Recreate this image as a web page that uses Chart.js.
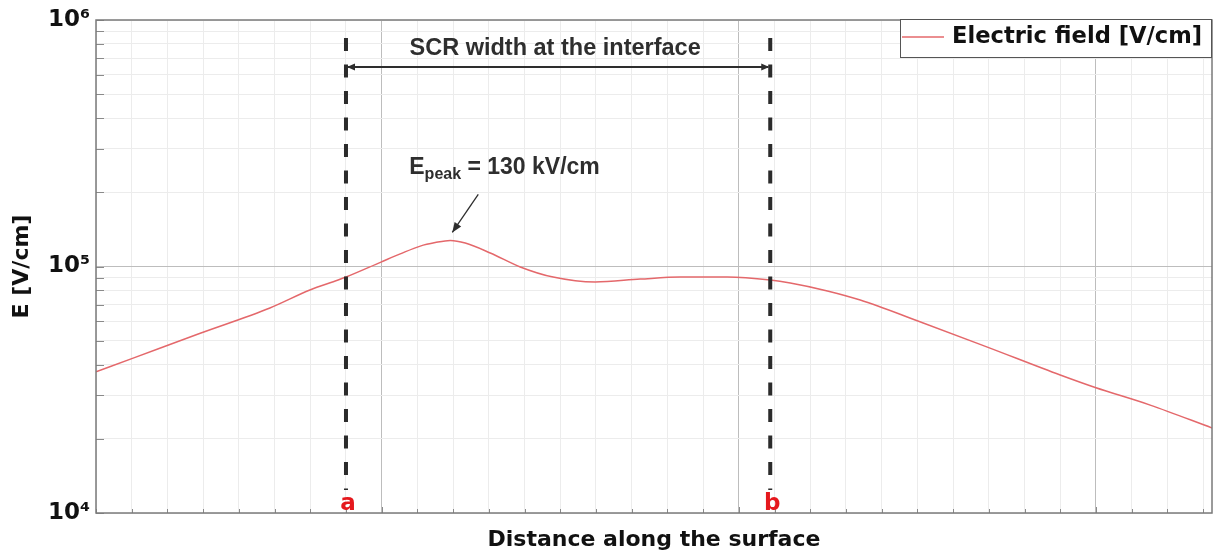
<!DOCTYPE html>
<html>
<head>
<meta charset="utf-8">
<script src="https://cdn.jsdelivr.net/npm/chart.js@4/dist/chart.umd.min.js"></script>
<style>
html,body{margin:0;padding:0;background:#fff;}
#wrap{width:1217px;height:555px;}
</style>
</head>
<body>
<div id="wrap"><canvas id="c" width="1217" height="555"></canvas></div>
<script>
// ---- data ----
const distance = [0.00,1.04,2.90,4.87,5.99,6.78,7.00,7.98,8.52,9.08,9.50,9.92,10.34,11.04,11.88,12.80,13.98,15.24,16.36,17.68,18.88,19.44,20.48,21.40,22.94,24.96,27.00,27.98,29.52,31.26];
const eField   = [37400,42500,53500,67900,80300,88100,90600,104200,112500,121000,125000,127500,124500,113500,99600,90600,86500,88900,90600,90600,88100,85700,79600,73100,60700,47100,36300,32300,27400,22100];
const seriesLabel = 'Electric field [V/cm]';
const yTickValues = [1e4,2e4,3e4,4e4,5e4,6e4,7e4,8e4,9e4,1e5,2e5,3e5,4e5,5e5,6e5,7e5,8e5,9e5,1e6];
const yTickLabels = {10000:'10⁴',100000:'10⁵',1000000:'10⁶'};
const xTickValues = Array.from({length:32},(_, i)=>i);
const xMajorTicks = [8,18,28];
const markerPos = [7.0,18.88];
const markerLabels = ['a','b'];
const scrLabel = 'SCR width at the interface';
const peakPos = 9.92, peakVal = 127500;
const peakLabelMain = 'E', peakLabelSub = 'peak', peakLabelRest = ' = 130 kV/cm';
const xTitle = 'Distance along the surface';
const yTitle = 'E [V/cm]';

const LINE_COLOR = '#e4686b';
const DEJAVU = '"DejaVu Sans", sans-serif';
const ARIAL = '"Liberation Sans", Arial, sans-serif';

function arrowHead(ctx, x, y, ang, len, w){
  ctx.beginPath();
  ctx.moveTo(x, y);
  ctx.lineTo(x - len*Math.cos(ang) + w*Math.sin(ang), y - len*Math.sin(ang) - w*Math.cos(ang));
  ctx.lineTo(x - len*Math.cos(ang) - w*Math.sin(ang), y - len*Math.sin(ang) + w*Math.cos(ang));
  ctx.closePath();
  ctx.fill();
}

const decor = {
  id:'decor',
  beforeDatasetsDraw(chart){
    const {ctx, chartArea:a, scales:{x,y}} = chart;
    ctx.save();
    ctx.strokeStyle = '#8a8a8a';
    ctx.lineWidth = 1;
    yTickValues.forEach(v=>{
      const py = Math.round(y.getPixelForValue(v))+0.5;
      ctx.beginPath(); ctx.moveTo(a.left, py); ctx.lineTo(a.left+8, py); ctx.stroke();
    });
    xTickValues.forEach(v=>{
      const px = Math.round(x.getPixelForValue(v))+0.5;
      const len = xMajorTicks.includes(v) ? 6 : 4;
      ctx.beginPath(); ctx.moveTo(px, a.bottom); ctx.lineTo(px, a.bottom-len); ctx.stroke();
    });
    ctx.restore();
  },
  afterDatasetsDraw(chart){
    const {ctx, chartArea:a, scales:{x,y}} = chart;
    ctx.save();
    ctx.strokeStyle = '#7a7a7a';
    ctx.lineWidth = 1.5;
    ctx.strokeRect(a.left, a.top, a.right-a.left, a.bottom-a.top);

    const mx = markerPos.map(v=>x.getPixelForValue(v));
    ctx.strokeStyle = '#2b2b2b';
    ctx.lineWidth = 4;
    ctx.setLineDash([13,13.5]);
    mx.forEach(px=>{
      ctx.beginPath(); ctx.moveTo(px, a.top+18); ctx.lineTo(px, a.bottom-23); ctx.stroke();
    });
    ctx.setLineDash([]);
    ctx.fillStyle = '#e5181d';
    ctx.font = 'bold 23px ' + DEJAVU;
    ctx.textAlign = 'center'; ctx.textBaseline = 'alphabetic';
    mx.forEach((px,i)=>ctx.fillText(markerLabels[i], px+2, a.bottom-3));

    const ay = a.top + 47;
    ctx.strokeStyle = '#2e2e2e'; ctx.fillStyle = '#2e2e2e';
    ctx.lineWidth = 2;
    ctx.beginPath(); ctx.moveTo(mx[0]+2, ay); ctx.lineTo(mx[1]-2, ay); ctx.stroke();
    arrowHead(ctx, mx[0]+1, ay, Math.PI, 8, 3.5);
    arrowHead(ctx, mx[1]-1, ay, 0, 8, 3.5);
    ctx.font = 'bold 23.5px ' + ARIAL;
    ctx.textAlign = 'center'; ctx.textBaseline = 'middle';
    ctx.fillText(scrLabel, (mx[0]+mx[1])/2 - 3, a.top + 29);

    const tx = x.getPixelForValue(peakPos)+2, ty = y.getPixelForValue(peakVal) - 8;
    const sx = tx + 26, sy = ty - 38;
    ctx.lineWidth = 1.3;
    ctx.beginPath(); ctx.moveTo(sx, sy); ctx.lineTo(tx, ty); ctx.stroke();
    arrowHead(ctx, tx, ty, Math.atan2(ty-sy, tx-sx), 10, 4);
    ctx.textAlign = 'left'; ctx.textBaseline = 'alphabetic';
    let lx = tx - 43, by = ty - 58;
    ctx.font = 'bold 23px ' + ARIAL;
    ctx.fillText(peakLabelMain, lx, by);
    lx += ctx.measureText(peakLabelMain).width;
    ctx.font = 'bold 16px ' + ARIAL;
    ctx.fillText(peakLabelSub, lx, by+5);
    lx += ctx.measureText(peakLabelSub).width;
    ctx.font = 'bold 23px ' + ARIAL;
    ctx.fillText(peakLabelRest, lx, by);

    const ds = chart.data.datasets[0];
    const bx = a.right - 312, bw = 312, bt = a.top - 1, bh = 38;
    ctx.fillStyle = '#fff';
    ctx.fillRect(bx, bt, bw, bh);
    ctx.strokeStyle = '#555'; ctx.lineWidth = 1;
    ctx.strokeRect(bx+0.5, bt+0.5, bw-1, bh);
    ctx.strokeStyle = ds.borderColor; ctx.lineWidth = 1.5;
    ctx.beginPath(); ctx.moveTo(bx+2, bt+18); ctx.lineTo(bx+44, bt+18); ctx.stroke();
    ctx.fillStyle = '#111';
    ctx.font = 'bold 22.6px ' + DEJAVU;
    ctx.textAlign = 'left'; ctx.textBaseline = 'middle';
    ctx.fillText(ds.label, bx+52, bt+18);
    ctx.restore();
  }
};

new Chart(document.getElementById('c'), {
  type:'line',
  data:{
    datasets:[{
      label: seriesLabel,
      data: distance.map((d,i)=>({x:d, y:eField[i]})),
      borderColor: LINE_COLOR,
      borderWidth: 1.5,
      pointRadius: 0,
      cubicInterpolationMode:'monotone',
      fill:false
    }]
  },
  options:{
    responsive:false,
    animation:false,
    devicePixelRatio:1,
    layout:{padding:{left:0,right:5,top:20,bottom:0}},
    plugins:{legend:{display:false}, tooltip:{enabled:false}},
    scales:{
      x:{
        type:'linear', min:0, max:31.25,
        afterBuildTicks(s){ s.ticks = xTickValues.map(v=>({value:v})); },
        afterFit(s){ s.height = 42; },
        ticks:{display:false},
        border:{display:false},
        grid:{
          drawTicks:false,
          color: c => xMajorTicks.includes(c.tick && c.tick.value) ? '#bdbdbd' : '#ececec',
          lineWidth:1
        },
        title:{display:true, text:xTitle, color:'#111',
          font:{family:DEJAVU, size:22, weight:'bold'}, padding:{top:0,bottom:2}}
      },
      y:{
        type:'logarithmic', min:1e4, max:1e6,
        afterBuildTicks(s){ s.ticks = yTickValues.map(v=>({value:v})); },
        afterFit(s){ s.width = 96; },
        border:{display:false},
        grid:{
          drawTicks:false,
          color: c => (c.tick && c.tick.value===1e5) ? '#bdbdbd' : '#ececec',
          lineWidth:1
        },
        ticks:{
          autoSkip:false, padding:6, color:'#111',
          font:{family:DEJAVU, size:23, weight:'bold'},
          callback:(v)=> yTickLabels[v] || ''
        },
        title:{display:true, text:yTitle, color:'#111',
          font:{family:DEJAVU, size:22, weight:'bold'}, padding:{top:9,bottom:0}}
      }
    }
  },
  plugins:[decor]
});
</script>
</body>
</html>
